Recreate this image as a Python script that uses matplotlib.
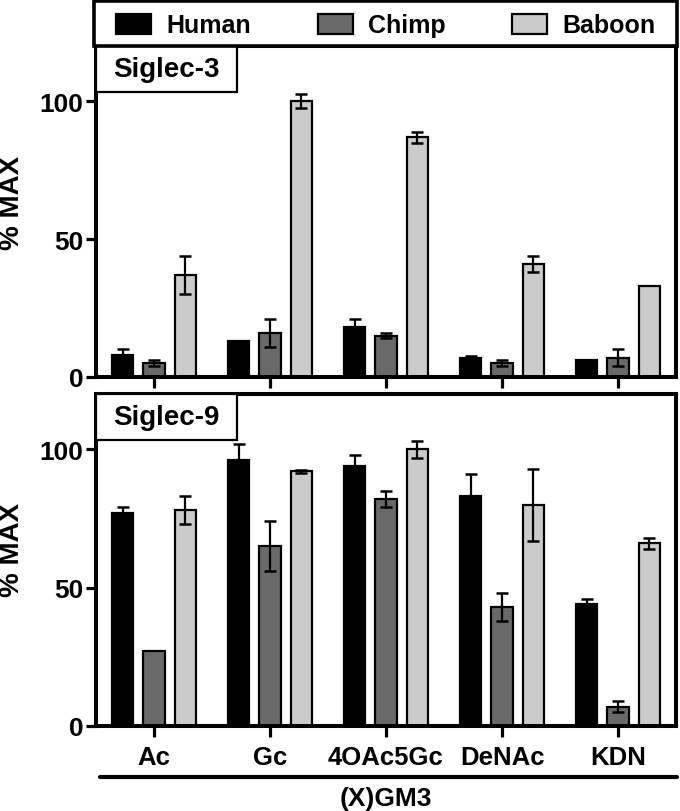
import numpy as np
import matplotlib
matplotlib.use("Agg")
import matplotlib.pyplot as plt
from matplotlib.patches import Rectangle

plt.rcParams['font.family'] = ['Liberation Sans', 'DejaVu Sans']
plt.rcParams['font.weight'] = 'bold'

categories = ["Ac", "Gc", "4OAc5Gc", "DeNAc", "KDN"]
species = ["Human", "Chimp", "Baboon"]
colors = ["#000000", "#696969", "#cbcbcb"]

# Siglec-3 (% MAX)
s3_human = [8, 13, 18, 7, 6]
s3_human_err = [2, 0, 3, 0.7, 0]
s3_chimp = [5, 16, 15, 5, 7]
s3_chimp_err = [1, 5, 1, 1, 3]
s3_baboon = [37, 100, 87, 41, 33]
s3_baboon_err = [7, 2.5, 2, 3, 0]

# Siglec-9 (% MAX)
s9_human = [77, 96, 94, 83, 44]
s9_human_err = [2, 6, 4, 8, 2]
s9_chimp = [27, 65, 82, 43, 7]
s9_chimp_err = [0, 9, 3, 5, 2]
s9_baboon = [78, 92, 100, 80, 66]
s9_baboon_err = [5, 0.7, 3, 13, 2]

panels = [
    ("Siglec-3", [s3_human, s3_chimp, s3_baboon], [s3_human_err, s3_chimp_err, s3_baboon_err]),
    ("Siglec-9", [s9_human, s9_chimp, s9_baboon], [s9_human_err, s9_chimp_err, s9_baboon_err]),
]

W, H = 680, 812
fig = plt.figure(figsize=(W / 100, H / 100), dpi=100)

def fx(px):
    return px / W

def fy(py):
    return 1 - py / H

ax1 = fig.add_axes([fx(96), fy(378), (676 - 96) / W, 331 / H])
ax2 = fig.add_axes([fx(96), fy(727), (676 - 96) / W, 332 / H])

offsets = [-0.27, 0.0, 0.27]
bw = 0.185
x = np.arange(len(categories))

for ax, (name, vals, errs) in zip([ax1, ax2], panels):
    for k in range(3):
        ax.bar(x + offsets[k], vals[k], width=bw, color=colors[k],
               edgecolor="black", linewidth=1.6, zorder=2)
        idx = [i for i in range(len(categories)) if errs[k][i] > 0]
        ax.errorbar(x[idx] + offsets[k], np.array(vals[k])[idx],
                    yerr=np.array(errs[k])[idx], fmt="none", ecolor="black",
                    elinewidth=1.6, capsize=4.3, capthick=1.8, zorder=3)
    ax.set_xlim(-0.5, len(categories) - 0.5)
    ax.set_ylim(0, 120)
    ax.set_yticks([0, 50, 100])
    ax.set_xticks(x)
    for s in ax.spines.values():
        s.set_linewidth(2.9)
        s.set_zorder(4)
    ax.tick_params(axis="both", direction="out", length=7, width=2.3,
                   labelsize=19, pad=2)
    for lab in ax.get_yticklabels():
        lab.set_fontweight("bold")
    # panel label box
    ax.add_patch(Rectangle((0, 1 - 0.138), 141 / 580, 0.138, transform=ax.transAxes,
                           facecolor="white", edgecolor="black", linewidth=1.6,
                           zorder=5, clip_on=False))
    ax.text(70.5 / 580, 1 - 0.069, name, transform=ax.transAxes, ha="center",
            va="center", fontsize=20, fontweight="bold", zorder=6)

ax1.set_xticklabels([])
ax1.tick_params(axis="x", length=8)
ax2.tick_params(axis="x", length=8, pad=6)
ax2.set_xticklabels(categories, fontsize=18.5, fontweight="bold")

for yc in [203, 550]:
    fig.text(fx(12), fy(yc), "% MAX", rotation=90, ha="center", va="center",
             fontsize=20, fontweight="bold")

# overlay for legend and group label
ov = fig.add_axes([0, 0, 1, 1], zorder=10)
ov.set_xlim(0, W)
ov.set_ylim(H, 0)
ov.axis("off")
ov.patch.set_alpha(0)

ov.add_patch(Rectangle((94, 2), 583, 45, facecolor="white", edgecolor="black",
                       linewidth=2.6))
leg_x = [116, 318, 512]
for k in range(3):
    ov.add_patch(Rectangle((leg_x[k], 15), 35, 20, facecolor=colors[k],
                           edgecolor="black", linewidth=1.6))
    ov.text(leg_x[k] + 50, 26, species[k], ha="left", va="center",
            fontsize=18, fontweight="bold")

ov.plot([100, 677], [778, 778], color="black", linewidth=3, solid_capstyle="round")
ov.text(386, 799, "(X)GM3", ha="center", va="center", fontsize=19, fontweight="bold")

fig.savefig("out.png", dpi=100)
